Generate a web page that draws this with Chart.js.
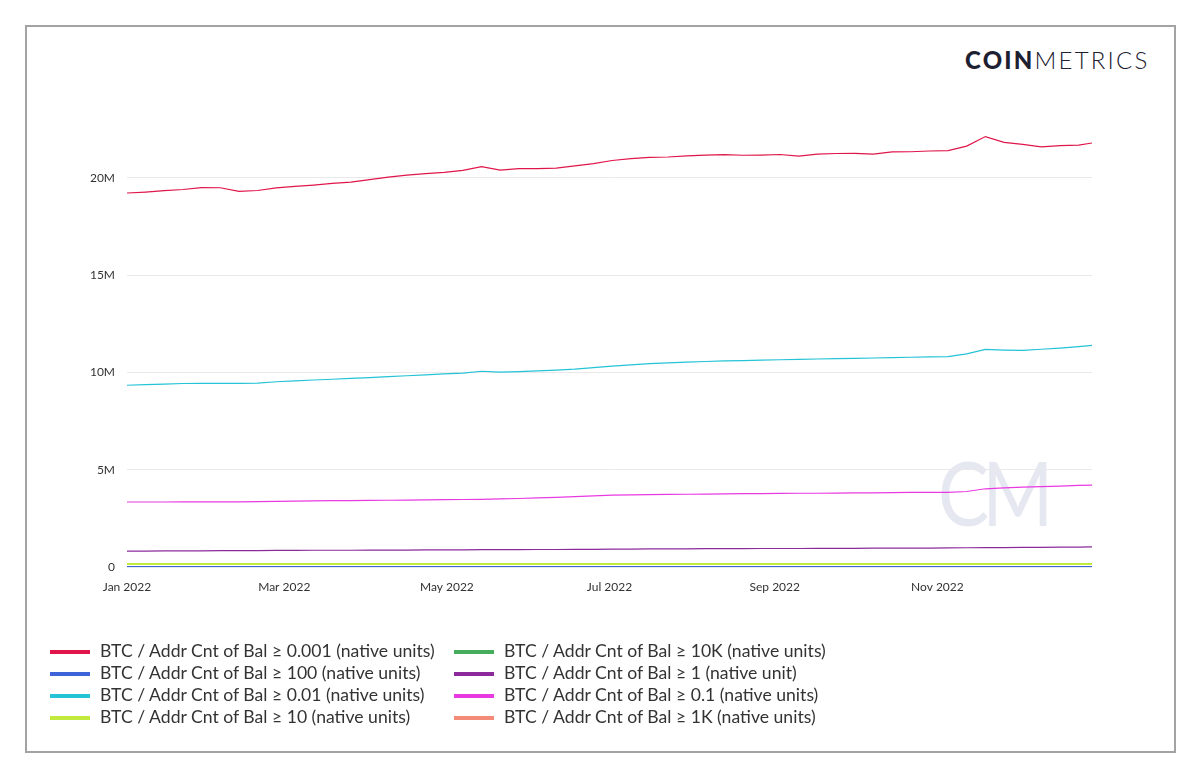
<!DOCTYPE html>
<html>
<head>
<meta charset="utf-8">
<script src="https://cdn.jsdelivr.net/npm/chart.js@4/dist/chart.umd.min.js"></script>
<style>
  html, body { margin:0; padding:0; background:#fff; }
  body { width:1200px; height:777px; position:relative; overflow:hidden; font-family: Lato, "Open Sans", sans-serif; }
  #frame { position:absolute; left:25px; top:25px; width:1151px; height:728px; border:2px solid #a3a3a3; box-sizing:border-box; }
  #logo { position:absolute; left:965px; top:45px; font-size:24px; color:#1c2030; letter-spacing:2.2px; white-space:nowrap; line-height:30px; }
  #logo b { font-weight:900; }
  #logo span { font-weight:300; }
  #wm { position:absolute; left:938px; top:436px; font-size:90px; font-weight:400; color:#e6e8f1; letter-spacing:-8px; line-height:110px; transform:scaleX(0.85); transform-origin:left top; }
  #c { position:absolute; left:0; top:0; }
  .lg { position:absolute; font-size:17.6px; color:#333; white-space:nowrap; height:22px; line-height:22px; }
  .lg i { display:inline-block; width:40px; height:4px; vertical-align:middle; margin-right:10px; position:relative; top:-1px; }
</style>
</head>
<body>
<div id="frame"></div>
<div id="logo"><b>COIN</b><span>METRICS</span></div>
<div id="wm">CM</div>
<canvas id="c" width="1200" height="777"></canvas>
<div id="legend"></div>
<script>
// ---- data ----
const days = [0,7,14,21,28,35,42,49,56,63,70,77,84,91,98,105,112,119,126,133,140,147,154,161,168,175,182,189,196,203,210,217,224,231,238,245,252,259,266,273,280,287,294,301,308,315,322,329,336,343,350,357,362];

const tickDays = [0, 59, 120, 181, 243, 304];
const tickLabels = ["Jan 2022", "Mar 2022", "May 2022", "Jul 2022", "Sep 2022", "Nov 2022"];

const yTickValues = [0, 5e6, 10e6, 15e6, 20e6];
const yTickLabels = ["0", "5M", "10M", "15M", "20M"];

// values in millions of addresses
const bal0001 = [19.22,19.27,19.34,19.40,19.50,19.49,19.30,19.35,19.48,19.56,19.63,19.72,19.78,19.91,20.04,20.14,20.22,20.28,20.38,20.58,20.40,20.47,20.47,20.50,20.61,20.73,20.89,20.99,21.05,21.07,21.13,21.17,21.19,21.16,21.17,21.20,21.12,21.22,21.25,21.26,21.22,21.33,21.34,21.38,21.40,21.63,22.12,21.82,21.72,21.59,21.66,21.68,21.79];
const bal100 = [0.0159,0.0159,0.0159,0.0160,0.0160,0.0160,0.0160,0.0160,0.0161,0.0161,0.0161,0.0161,0.0161,0.0161,0.0161,0.0161,0.0161,0.0161,0.0161,0.0161,0.0161,0.0161,0.0161,0.0161,0.0161,0.0161,0.0161,0.0161,0.0161,0.0161,0.0161,0.0160,0.0160,0.0160,0.0160,0.0160,0.0160,0.0160,0.0160,0.0160,0.0160,0.0160,0.0160,0.0160,0.0160,0.0160,0.0160,0.0160,0.0160,0.0160,0.0160,0.0160,0.0160];
const bal001 = [9.34,9.37,9.40,9.43,9.44,9.44,9.44,9.45,9.52,9.57,9.61,9.65,9.69,9.73,9.78,9.83,9.87,9.92,9.96,10.06,10.01,10.04,10.08,10.12,10.17,10.25,10.32,10.39,10.45,10.49,10.53,10.56,10.59,10.61,10.63,10.65,10.67,10.69,10.71,10.72,10.74,10.76,10.78,10.80,10.81,10.95,11.18,11.15,11.13,11.19,11.25,11.33,11.39];
const bal10 = [0.152,0.152,0.152,0.152,0.152,0.152,0.152,0.153,0.153,0.153,0.153,0.153,0.153,0.153,0.153,0.154,0.154,0.154,0.154,0.154,0.154,0.154,0.154,0.154,0.154,0.154,0.154,0.154,0.154,0.154,0.154,0.154,0.154,0.154,0.154,0.154,0.154,0.154,0.154,0.154,0.154,0.155,0.155,0.155,0.155,0.155,0.155,0.155,0.155,0.155,0.155,0.155,0.155];
const bal10k = [0.00009,0.00009,0.00009,0.00009,0.00009,0.00009,0.00009,0.00009,0.00009,0.00009,0.00009,0.00009,0.00009,0.00009,0.00009,0.00009,0.00009,0.00009,0.00009,0.00009,0.00009,0.00009,0.00009,0.00009,0.00009,0.00009,0.00009,0.00009,0.00009,0.00009,0.00009,0.00009,0.00009,0.00009,0.00009,0.00009,0.00009,0.00009,0.00009,0.00009,0.00009,0.00009,0.00009,0.00009,0.00009,0.00009,0.00009,0.00009,0.00009,0.00009,0.00009,0.00009,0.00009];
const bal1 = [0.82,0.82,0.83,0.83,0.83,0.84,0.84,0.84,0.85,0.85,0.86,0.86,0.86,0.87,0.87,0.87,0.88,0.88,0.88,0.89,0.89,0.89,0.90,0.90,0.91,0.91,0.92,0.92,0.93,0.93,0.93,0.94,0.94,0.94,0.95,0.95,0.95,0.96,0.96,0.96,0.97,0.97,0.97,0.97,0.98,0.99,1.00,1.00,1.01,1.01,1.02,1.02,1.03];
const bal01 = [3.34,3.34,3.34,3.35,3.35,3.35,3.35,3.36,3.37,3.39,3.40,3.41,3.41,3.42,3.43,3.44,3.45,3.46,3.47,3.48,3.50,3.52,3.55,3.58,3.62,3.66,3.69,3.71,3.72,3.73,3.74,3.75,3.76,3.77,3.77,3.78,3.79,3.79,3.80,3.81,3.81,3.82,3.83,3.83,3.84,3.88,4.02,4.07,4.10,4.13,4.16,4.19,4.21];
const bal1k = [0.0022,0.0022,0.0022,0.0022,0.0022,0.0022,0.0022,0.0022,0.0022,0.0022,0.0022,0.0022,0.0022,0.0022,0.0022,0.0022,0.0022,0.0022,0.0022,0.0022,0.0022,0.0022,0.0022,0.0022,0.0022,0.0022,0.0022,0.0022,0.0022,0.0022,0.0022,0.0022,0.0022,0.0022,0.0022,0.0022,0.0022,0.0022,0.0022,0.0022,0.0022,0.0022,0.0022,0.0022,0.0022,0.0022,0.0022,0.0022,0.0022,0.0022,0.0022,0.0022,0.0022];

const seriesLabels = [
  "BTC / Addr Cnt of Bal \u2265 0.001 (native units)",
  "BTC / Addr Cnt of Bal \u2265 100 (native units)",
  "BTC / Addr Cnt of Bal \u2265 0.01 (native units)",
  "BTC / Addr Cnt of Bal \u2265 10 (native units)",
  "BTC / Addr Cnt of Bal \u2265 10K (native units)",
  "BTC / Addr Cnt of Bal \u2265 1 (native unit)",
  "BTC / Addr Cnt of Bal \u2265 0.1 (native units)",
  "BTC / Addr Cnt of Bal \u2265 1K (native units)"
];
const seriesValues = [bal0001, bal100, bal001, bal10, bal10k, bal1, bal01, bal1k];
const seriesColors = ["#e0164a", "#3f63d8", "#25c3d6", "#c2ea3c", "#45ad5c", "#8c2a9c", "#e93ae2", "#f48b79"];

// ---- chart ----
const datasets = seriesLabels.map((lab, i) => ({
  label: lab,
  data: days.map((d, j) => ({ x: d, y: seriesValues[i][j] * 1e6 })),
  borderColor: seriesColors[i],
  backgroundColor: seriesColors[i],
  borderWidth: (i === 3) ? 2 : 1.2,
  pointRadius: 0,
  tension: 0,
  fill: false
}));

new Chart(document.getElementById('c'), {
  type: 'line',
  data: { datasets },
  options: {
    responsive: false,
    animation: false,
    devicePixelRatio: 1,
    layout: { padding: { top: 100, right: 108, left: 0, bottom: 0 } },
    plugins: { legend: { display: false }, tooltip: { enabled: false } },
    scales: {
      x: {
        type: 'linear',
        min: 0,
        max: days[days.length - 1],
        grid: { display: false },
        border: { display: false },
        afterBuildTicks: (s) => { s.ticks = tickDays.map(v => ({ value: v })); },
        afterFit: (s) => { s.height = 210; },
        ticks: {
          autoSkip: false,
          maxRotation: 0,
          padding: 5,
          color: '#333',
          font: { family: 'Lato', size: 12 },
          callback: (v) => { const k = tickDays.indexOf(v); return k >= 0 ? tickLabels[k] : ''; }
        }
      },
      y: {
        min: 0,
        max: 24e6,
        grid: { color: '#e9e9e9', drawTicks: false, lineWidth: 1 },
        border: { display: false },
        afterBuildTicks: (s) => { s.ticks = yTickValues.map(v => ({ value: v })); },
        afterFit: (s) => { s.width = 127; },
        ticks: {
          padding: 12,
          color: '#333',
          font: { family: 'Lato', size: 12 },
          callback: (v) => { const k = yTickValues.indexOf(v); return k >= 0 ? yTickLabels[k] : ''; }
        }
      }
    }
  }
});

// ---- legend (HTML) ----
const lg = document.getElementById('legend');
const rowsTop = [640, 662, 684, 706];
seriesLabels.forEach((lab, i) => {
  const col = Math.floor(i / 4), row = i % 4;
  const d = document.createElement('div');
  d.className = 'lg';
  d.style.left = (col === 0 ? 50 : 454) + 'px';
  d.style.top = rowsTop[row] + 'px';
  const sw = document.createElement('i');
  sw.style.background = seriesColors[i];
  d.appendChild(sw);
  d.appendChild(document.createTextNode(lab));
  lg.appendChild(d);
});
</script>
</body>
</html>
